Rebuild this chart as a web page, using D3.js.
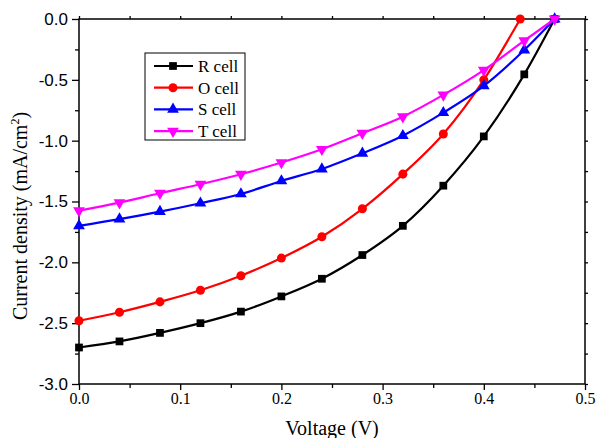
<!DOCTYPE html>
<html>
<head>
<meta charset="utf-8">
<script src="https://cdn.jsdelivr.net/npm/d3@7"></script>
<style>
  body { margin: 0; background: #fff; }
  svg { display: block; }
  .frame { fill: none; stroke: #000; stroke-width: 1.5; }
  .axis path, .axis line { stroke: #000; stroke-width: 1.3; }
  .ylab text { font-family: "Liberation Sans", Arial, sans-serif; font-size: 17px; fill: #000; }
  .xlab text { font-family: "Liberation Serif", "Times New Roman", serif; font-size: 16px; fill: #000; }
  .title { font-family: "Liberation Serif", "Times New Roman", serif; font-size: 20px; fill: #000; }
  .legend text { font-family: "Liberation Serif", "Times New Roman", serif; font-size: 17px; fill: #000; }
  .line { fill: none; stroke-width: 2.2; }
</style>
</head>
<body>
<div id="chart"></div>
<script>
// voltage points (V)
var voltage = [0, 0.04, 0.08, 0.12, 0.16, 0.20, 0.24, 0.28, 0.32, 0.36, 0.40, 0.44, 0.47];
var voltageO = [0, 0.04, 0.08, 0.12, 0.16, 0.20, 0.24, 0.28, 0.32, 0.36, 0.40, 0.436];

// current density (mA/cm2)
var rCell = [-2.70, -2.65, -2.58, -2.50, -2.405, -2.28, -2.135, -1.94, -1.70, -1.37, -0.965, -0.455, 0];
var oCell = [-2.48, -2.41, -2.325, -2.23, -2.11, -1.965, -1.79, -1.56, -1.275, -0.945, -0.50, 0];
var sCell = [-1.70, -1.645, -1.583, -1.514, -1.438, -1.331, -1.233, -1.104, -0.959, -0.77, -0.55, -0.255, 0];
var tCell = [-1.575, -1.509, -1.432, -1.358, -1.276, -1.18, -1.071, -0.939, -0.803, -0.624, -0.42, -0.178, 0];

var xTicks = [0, 0.1, 0.2, 0.3, 0.4, 0.5];
var yTicks = [0, -0.5, -1.0, -1.5, -2.0, -2.5, -3.0];

var series = [
    { name: 'R cell', x: voltage, y: rCell, color: '#000000', symbol: d3.symbolSquare, size: 60, rot: 0 },
    { name: 'O cell', x: voltageO, y: oCell, color: '#ff0000', symbol: d3.symbolCircle, size: 64, rot: 0 },
    { name: 'S cell', x: voltage, y: sCell, color: '#0000ff', symbol: d3.symbolTriangle, size: 60, rot: 0 },
    { name: 'T cell', x: voltage, y: tCell, color: '#ff00ff', symbol: d3.symbolTriangle, size: 60, rot: 180 }
];

var W = 597, H = 438;
var pLeft = 79, pRight = 585, pTop = 19, pBottom = 384;

var svg = d3.select('#chart').append('svg').attr('width', W).attr('height', H);

var xScale = d3.scaleLinear().domain([0, 0.5]).range([pLeft, pRight]);
var yScale = d3.scaleLinear().domain([-3, 0]).range([pBottom, pTop]);

// minor ticks
var xMinor = [0.05, 0.15, 0.25, 0.35, 0.45];
var yMinor = [-0.25, -0.75, -1.25, -1.75, -2.25, -2.75];

// bottom axis
svg.append('g').attr('class', 'axis xlab')
    .attr('transform', `translate(0,${pBottom})`)
    .call(d3.axisBottom(xScale).tickValues(xTicks).tickFormat(d => d.toFixed(1)).tickSize(6).tickPadding(3));
svg.append('g').attr('class', 'axis')
    .attr('transform', `translate(0,${pBottom})`)
    .call(d3.axisBottom(xScale).tickValues(xMinor).tickFormat('').tickSize(4));

// left axis
svg.append('g').attr('class', 'axis ylab')
    .attr('transform', `translate(${pLeft},0)`)
    .call(d3.axisLeft(yScale).tickValues(yTicks).tickFormat(d => d.toFixed(1)).tickSize(7).tickPadding(4));
svg.append('g').attr('class', 'axis')
    .attr('transform', `translate(${pLeft},0)`)
    .call(d3.axisLeft(yScale).tickValues(yMinor).tickFormat('').tickSize(4));

// top and right axes, no labels
svg.append('g').attr('class', 'axis')
    .attr('transform', `translate(0,${pTop})`)
    .call(d3.axisTop(xScale).tickValues(xTicks.concat(xMinor)).tickFormat('').tickSize(3));
svg.append('g').attr('class', 'axis')
    .attr('transform', `translate(${pRight},0)`)
    .call(d3.axisRight(yScale).tickValues(yTicks.concat(yMinor)).tickFormat('').tickSize(3));

svg.selectAll('.axis .domain').remove();
svg.append('rect').attr('class', 'frame')
    .attr('x', pLeft).attr('y', pTop)
    .attr('width', pRight - pLeft).attr('height', pBottom - pTop);

// x axis title
svg.append('text').attr('class', 'title')
    .attr('x', (pLeft + pRight) / 2).attr('y', 435)
    .attr('text-anchor', 'middle')
    .text('Voltage (V)');

// y axis title
var yt = svg.append('text').attr('class', 'title')
    .attr('transform', 'translate(27,216) rotate(-90)')
    .attr('text-anchor', 'middle');
yt.append('tspan').text('Current density (mA/cm');
yt.append('tspan').attr('font-size', '12px').attr('dy', -8).text('2');
yt.append('tspan').attr('dy', 8).text(')');

var line = d3.line()
    .x(d => xScale(d[0]))
    .y(d => yScale(d[1]))
    .curve(d3.curveMonotoneX);

series.forEach(function (s) {
    var pts = s.x.map((v, i) => [v, s.y[i]]);
    svg.append('path').datum(pts)
        .attr('class', 'line')
        .attr('stroke', s.color)
        .attr('d', line);
    svg.selectAll(null).data(pts).enter().append('path')
        .attr('d', d3.symbol().type(s.symbol).size(s.size))
        .attr('transform', d => `translate(${xScale(d[0])},${yScale(d[1])}) rotate(${s.rot})`)
        .attr('fill', s.color);
});

// legend
var legend = svg.append('g').attr('class', 'legend');
legend.append('rect')
    .attr('x', 145).attr('y', 53).attr('width', 100).attr('height', 87)
    .attr('fill', '#fff').attr('stroke', '#000').attr('stroke-width', 1);
series.forEach(function (s, i) {
    var y = 66 + i * 21.7;
    legend.append('line')
        .attr('x1', 154).attr('x2', 193).attr('y1', y).attr('y2', y)
        .attr('stroke', s.color).attr('stroke-width', 2.2);
    legend.append('path')
        .attr('d', d3.symbol().type(s.symbol).size(s.size))
        .attr('transform', `translate(173,${y}) rotate(${s.rot})`)
        .attr('fill', s.color);
    legend.append('text')
        .attr('x', 198).attr('y', y + 6)
        .text(s.name);
});
</script>
</body>
</html>
